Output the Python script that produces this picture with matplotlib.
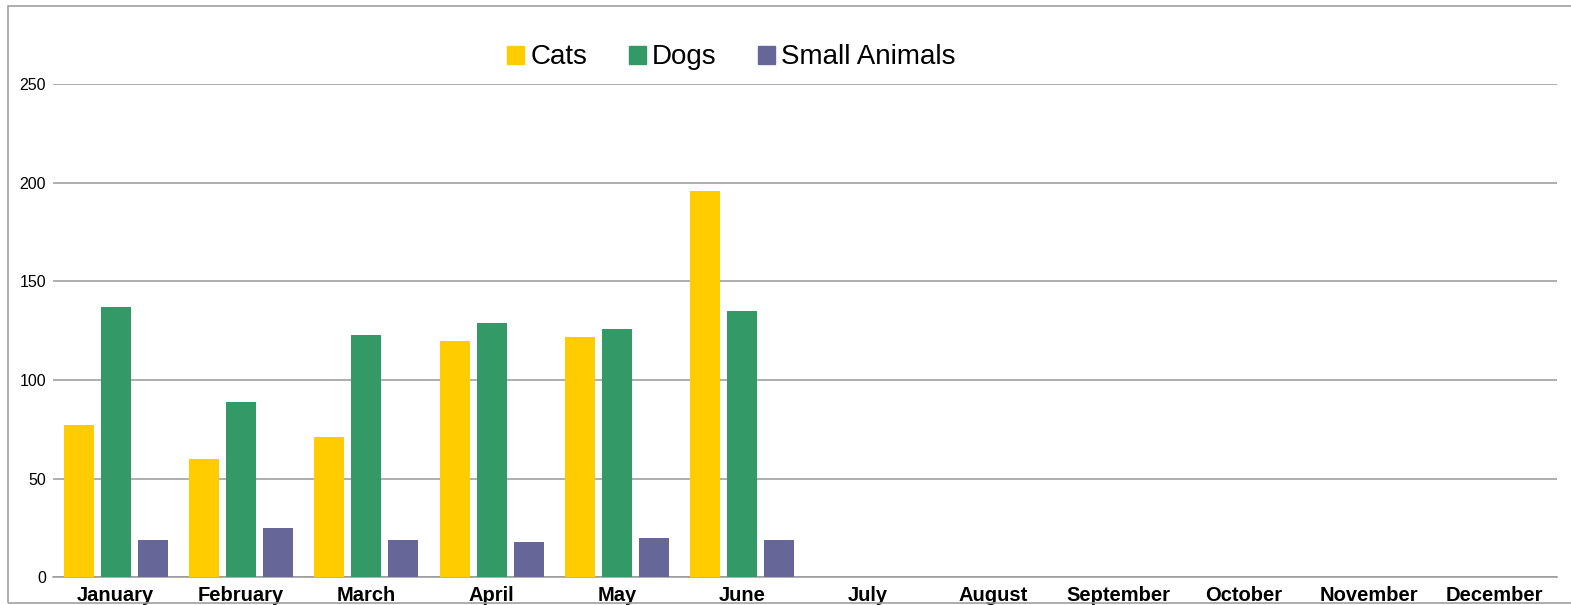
import numpy as np
import matplotlib
matplotlib.use("Agg")
import matplotlib.pyplot as plt
from matplotlib.patches import Patch, Rectangle

months = ["January", "February", "March", "April", "May", "June",
          "July", "August", "September", "October", "November", "December"]
cats = [77, 60, 71, 120, 122, 196]
dogs = [137, 89, 123, 129, 126, 135]
small = [19, 25, 19, 18, 20, 19]
series = ["Cats", "Dogs", "Small Animals"]
colors = ["#ffcc00", "#339966", "#666699"]
yticks = [0, 50, 100, 150, 200, 250]

plt.rcParams["font.family"] = ["Liberation Sans", "DejaVu Sans"]

W, H = 1571, 605
fig = plt.figure(figsize=(W / 100, H / 100), dpi=100)
# outer chart border
fig.add_artist(Rectangle((8 / W, 1 - 603 / H), 1.2, (603 - 6) / H, transform=fig.transFigure,
                         fill=False, ec="#a0a0a0", lw=1.2))

ax = fig.add_axes([53 / W, 1 - 577.3 / H, (1557 - 53) / W, (577.3 - 84.3) / H])
x = np.arange(len(months))
bw, gap = 0.24, 0.056
for i, (vals, c) in enumerate(zip([cats, dogs, small], colors)):
    off = (i - 1) * (bw + gap)
    ax.bar(x[:len(vals)] + off, vals, width=bw, color=c, zorder=3)

ax.set_xlim(-0.5, len(months) - 0.5)
ax.set_ylim(0, 250)
ax.set_yticks(yticks)
ax.set_xticks(x)
ax.set_xticklabels(months, fontsize=14.5, fontweight="bold")
ax.tick_params(axis="x", length=0, pad=6)
ax.tick_params(axis="y", length=0, labelsize=11.5, pad=5)
ax.grid(axis="y", color="#999999", lw=1.1, zorder=0)
for s in ["top", "right", "left"]:
    ax.spines[s].set_visible(False)
ax.spines["bottom"].set_color("#999999")
ax.spines["bottom"].set_linewidth(1.1)

handles = [Patch(color=c, label=s) for s, c in zip(series, colors)]
fig.legend(handles=handles, loc="center", bbox_to_anchor=(731.5 / W, 1 - 57.5 / H), ncol=3,
           frameon=False, fontsize=20, handlelength=0.61, handleheight=0.61,
           handletextpad=0.22, columnspacing=1.5, borderpad=0)

fig.savefig("out.png", dpi=100)
